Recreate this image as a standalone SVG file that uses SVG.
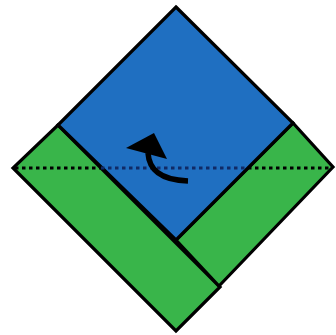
<svg xmlns="http://www.w3.org/2000/svg" width="336" height="335" viewBox="0 0 336 335">
<style>
.sh{stroke:#000;stroke-width:3.2;stroke-linejoin:miter}
.blue{fill:#1f6fc1}
.green{fill:#39b54a}
</style>
<rect width="336" height="335" fill="#fff"/>
<g id="green-left"><polygon class="sh green" points="58,125 220,287 176,331 13,168"/></g>
<g id="green-right"><polygon class="sh green" points="176,240 293,123 333,167 219,286"/></g>
<g id="blue-square"><polygon class="sh blue" points="176,7 293,123 176,240 58,125"/></g>
<g id="fold-line">
<line x1="15" y1="168" x2="101" y2="168" stroke="#000" stroke-width="3.2" stroke-dasharray="3.5,3.5"/>
<line x1="101" y1="168" x2="248" y2="168" stroke="#102a66" stroke-width="3" stroke-dasharray="3.5,3.5"/>
<line x1="248" y1="168" x2="332" y2="168" stroke="#000" stroke-width="3.2" stroke-dasharray="3.5,3.5"/>
</g>
<g id="arrow">
<path d="M148,153 C149,168 158,180 188,181" fill="none" stroke="#000" stroke-width="5.5"/>
<polygon points="126,148 154,133 167,159" fill="#000"/>
</g>
</svg>
